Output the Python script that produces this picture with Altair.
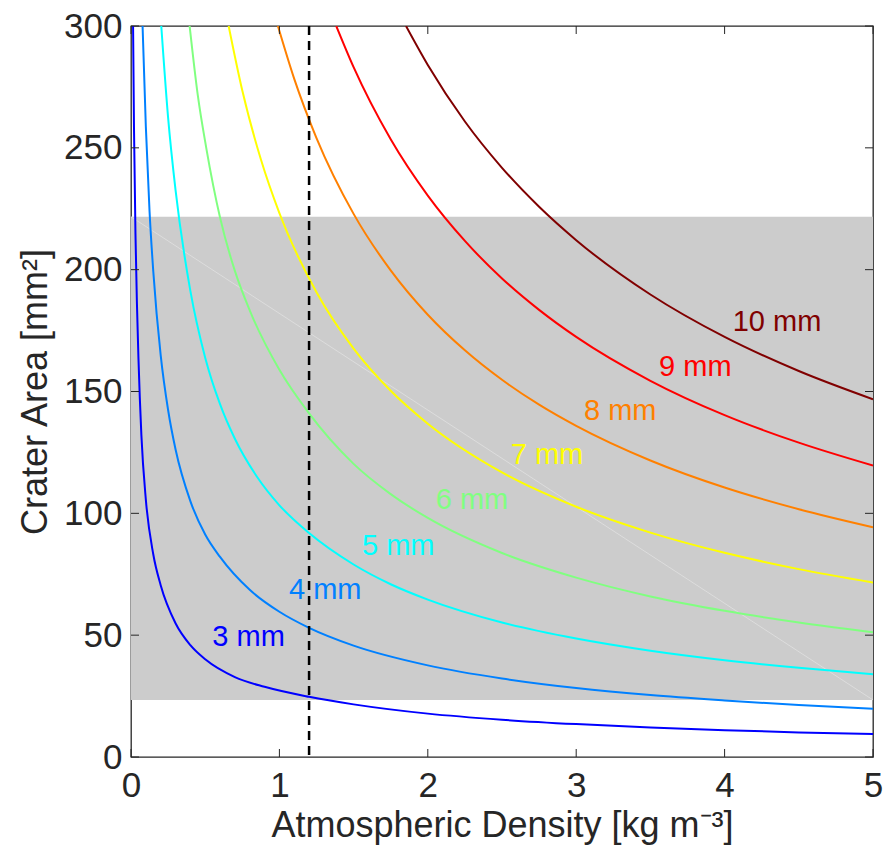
import altair as alt
import pandas as pd

# ---------------- data ----------------
diameters = ["3 mm", "4 mm", "5 mm", "6 mm", "7 mm", "8 mm", "9 mm", "10 mm"]
colors = ["#0000ff", "#0080ff", "#00ffff", "#80ff80", "#ffff00", "#ff8000", "#ff0000", "#800000"]

rho_3mm = [0.014, 0.02, 0.03, 0.04, 0.05, 0.07, 0.1, 0.15, 0.2, 0.3, 0.4, 0.5, 0.7, 0.9, 1.2, 1.5, 2.0, 2.5, 3.0, 3.5, 4.0, 4.5, 5.0]
area_3mm = [300, 259, 215, 186, 164, 132, 105.6, 83.2, 70.5, 54.9, 45.9, 40.1, 32.8, 28.8, 24.7, 21.6, 17.8, 15.3, 13.5, 12.1, 11.0, 10.1, 9.4]

rho_4mm = [0.078, 0.1, 0.125, 0.15, 0.2, 0.25, 0.3, 0.4, 0.5, 0.6, 0.8, 1.0, 1.2, 1.5, 2.0, 2.5, 3.0, 3.5, 4.0, 4.5, 5.0]
area_4mm = [300, 258.7, 223.9, 199.4, 164.9, 142.4, 126.3, 105.0, 91.3, 82.1, 68.6, 59.6, 53.0, 45.7, 37.6, 32.2, 28.3, 25.4, 23.2, 21.3, 19.8]

rho_5mm = [0.204, 0.25, 0.3, 0.4, 0.5, 0.6, 0.7, 0.85, 1.0, 1.2, 1.5, 1.75, 2.0, 2.5, 3.0, 3.5, 4.0, 4.5, 5.0]
area_5mm = [300, 262.4, 232.7, 191.3, 163.9, 144.8, 130.6, 114.9, 103.3, 91.9, 79.0, 70.9, 64.6, 55.2, 48.6, 43.6, 39.7, 36.6, 34.0]

rho_6mm = [0.395, 0.45, 0.507, 0.6, 0.7, 0.8, 1.0, 1.2, 1.5, 1.75, 2.0, 2.5, 3.0, 3.5, 4.0, 4.5, 5.0]
area_6mm = [300, 271.6, 250, 221.4, 199.5, 183.3, 158.9, 141, 120.3, 107.9, 98.1, 83.7, 73.6, 65.9, 60.0, 55.2, 51.2]

rho_7mm = [0.658, 0.75, 0.875, 1.0, 1.25, 1.5, 1.75, 2.0, 2.5, 3.0, 3.5, 4.0, 4.5, 5.0]
area_7mm = [300, 273.5, 245.3, 223.2, 190.7, 167.6, 150.3, 136.8, 116.8, 102.7, 92.1, 83.8, 77.1, 71.6]

rho_8mm = [0.99, 1.1, 1.25, 1.5, 1.75, 2.0, 2.25, 2.5, 2.75, 3.0, 3.5, 4.0, 4.5, 5.0]
area_8mm = [300, 278.3, 254.0, 222.9, 199.7, 181.5, 166.9, 154.8, 144.6, 135.9, 121.7, 110.6, 101.7, 94.3]

rho_9mm = [1.383, 1.5, 1.75, 2.0, 2.25, 2.5, 2.75, 3.0, 3.5, 4.0, 4.5, 5.0]
area_9mm = [300, 283.1, 253.5, 230.4, 211.8, 196.4, 183.5, 172.4, 154.4, 140.3, 129.0, 119.6]

rho_10mm = [1.853, 2.0, 2.25, 2.5, 2.75, 3.0, 3.5, 4.0, 4.5, 5.0]
area_10mm = [300, 284, 260.8, 241.8, 225.8, 212.1, 189.8, 172.4, 158.4, 146.8]

label_rho = [0.792, 1.309, 1.801, 2.298, 2.803, 3.297, 3.803, 4.353]
label_area = [49.4, 68.6, 86.6, 105.5, 123.9, 142.0, 160.1, 178.6]

band_area = [23.4, 221.7]          # observed crater-area range (grey band)
band_rho = [0.0, 5.0]
modern_density = [1.2]             # dashed reference line

x_ticks = [0, 1, 2, 3, 4, 5]
y_ticks = [0, 50, 100, 150, 200, 250, 300]

# ---------------- tables ----------------
series = [
    (rho_3mm, area_3mm), (rho_4mm, area_4mm), (rho_5mm, area_5mm), (rho_6mm, area_6mm),
    (rho_7mm, area_7mm), (rho_8mm, area_8mm), (rho_9mm, area_9mm), (rho_10mm, area_10mm),
]
rows = []
for name, (rs, as_) in zip(diameters, series):
    for i, (r, a) in enumerate(zip(rs, as_)):
        rows.append({"rho": r, "area": a, "size": name, "idx": i})
curves = pd.DataFrame(rows)
labels = pd.DataFrame({"rho": label_rho, "area": label_area, "size": diameters})
band = pd.DataFrame({"rho": [band_rho[0]], "rho2": [band_rho[1]],
                     "area": [band_area[0]], "area2": [band_area[1]]})
diag = pd.DataFrame({"rho": band_rho, "area": [band_area[1], band_area[0]]})
vline = pd.DataFrame({"rho": modern_density})
xt = pd.DataFrame({"rho": x_ticks})
yt = pd.DataFrame({"area": y_ticks})

W, H = 742, 731
FONT = "Liberation Sans"
TXT = "#262626"

x_axis = alt.Axis(values=x_ticks, format="d", ticks=False, domain=False, grid=False,
                  labelFlush=False, labelOverlap=False,
                  labelFontSize=35, labelPadding=11, labelColor=TXT, labelFont=FONT,
                  title="Atmospheric Density [kg m\u207b\u00b3]", titleFontSize=36,
                  titleFont=FONT, titleColor=TXT, titleFontWeight="normal", titlePadding=5)
y_axis = alt.Axis(values=y_ticks, format="d", ticks=False, domain=False, grid=False,
                  labelFlush=False, labelOverlap=False,
                  labelFontSize=35, labelPadding=9, labelColor=TXT, labelFont=FONT,
                  title="Crater Area [mm\u00b2]", titleFontSize=36, titleFont=FONT,
                  titleColor=TXT, titleFontWeight="normal", titlePadding=9)
xs = alt.Scale(domain=[0, 5], nice=False)
ys = alt.Scale(domain=[0, 300], nice=False)
X = alt.X("rho:Q", scale=xs, axis=x_axis)
Y = alt.Y("area:Q", scale=ys, axis=y_axis)
cscale = alt.Scale(domain=diameters, range=colors)

band_layer = alt.Chart(band).mark_rect(color="#cccccc").encode(
    x=X, x2="rho2:Q", y=Y, y2="area2:Q")

diag_layer = alt.Chart(diag).mark_line(color="#e4e4e4", strokeWidth=0.7).encode(x=X, y=Y)

line_layer = alt.Chart(curves).mark_line(strokeWidth=2, interpolate="monotone", clip=True).encode(
    x=X, y=Y, color=alt.Color("size:N", scale=cscale, legend=None),
    detail="size:N", order="idx:Q")

text_layer = alt.Chart(labels).mark_text(fontSize=29, font=FONT, align="center", baseline="middle").encode(
    x=X, y=Y, text="size:N", color=alt.Color("size:N", scale=cscale, legend=None))

vline_layer = alt.Chart(vline).mark_rule(color="black", strokeWidth=2.5, strokeDash=[9, 6]).encode(x=X)

tick_b = alt.Chart(xt).mark_rule(color=TXT, strokeWidth=1).encode(x=X, y=alt.value(H), y2=alt.value(H - 8))
tick_t = alt.Chart(xt).mark_rule(color=TXT, strokeWidth=1).encode(x=X, y=alt.value(0), y2=alt.value(8))
tick_l = alt.Chart(yt).mark_rule(color=TXT, strokeWidth=1).encode(y=Y, x=alt.value(0), x2=alt.value(8))
tick_r = alt.Chart(yt).mark_rule(color=TXT, strokeWidth=1).encode(y=Y, x=alt.value(W), x2=alt.value(W - 8))

chart = alt.layer(
    band_layer, diag_layer, line_layer, text_layer, vline_layer,
    tick_b, tick_t, tick_l, tick_r
).properties(
    width=W, height=H,
    autosize=alt.AutoSizeParams(type="none"),
    padding={"left": 131, "top": 26, "right": 15, "bottom": 100},
    background="white",
).configure_view(stroke=TXT, strokeWidth=1.3)

chart.save("out.html", embed_options={"renderer": "svg", "actions": False})
